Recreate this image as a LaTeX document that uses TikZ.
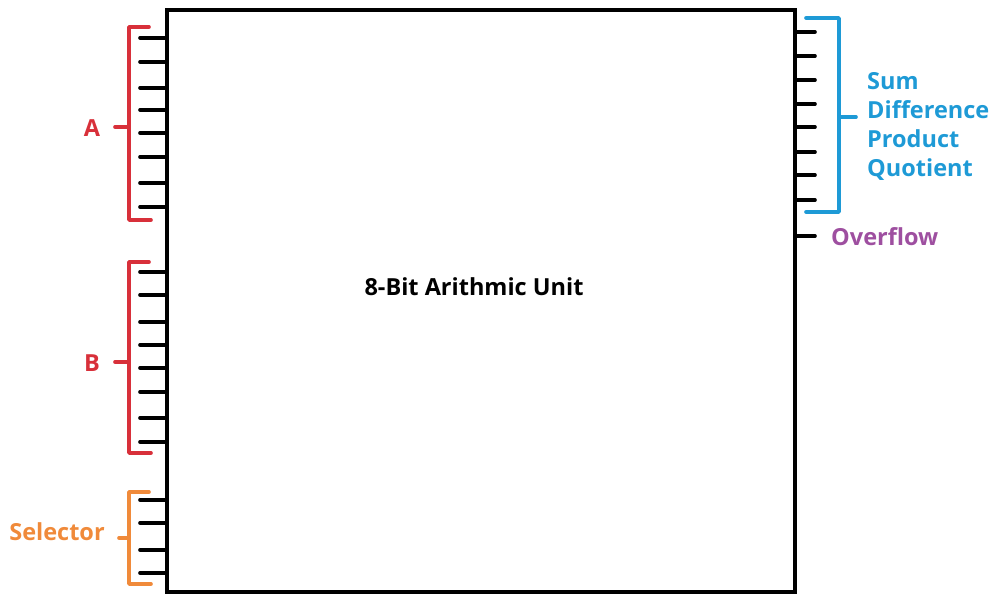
\documentclass[tikz,border=0pt]{standalone}
\usepackage{fontspec}
\setmainfont{Open Sans}
\definecolor{cred}{HTML}{D8303A}
\definecolor{corange}{HTML}{F08A3A}
\definecolor{cblue}{HTML}{1E9AD6}
\definecolor{cpurple}{HTML}{9E4FA0}
\begin{document}
\begin{tikzpicture}[x=1pt,y=-1pt,
  pin/.style={line width=3.6pt,line cap=round,black},
  brk/.style={line width=3.6pt,line cap=round,line join=round},
  lbl/.style={font=\fontsize{23.5}{29}\selectfont\bfseries,inner sep=0pt}]
\useasboundingbox (0,0) rectangle (996,602);
\draw[line width=4pt] (167,10) rectangle (795,592);
\node[font=\fontsize{23.5}{28}\selectfont\bfseries] (unit) at (474,287) {8-Bit Arithmic Unit};
% A pins
\foreach \y in {38,62,88,110,133,157,183,207}{\draw[pin] (140,\y) -- (167,\y);}
\draw[brk,cred] (149,27) -- (129,27) -- (129,220) -- (151,220);
\draw[brk,cred] (129,127) -- (115,127);
\node[lbl,text=cred] (la) at (92,128) {A};
% B pins
\foreach \y in {272,295,322,345,368,392,418,442}{\draw[pin] (140,\y) -- (167,\y);}
\draw[brk,cred] (149,262) -- (129,262) -- (129,453) -- (151,453);
\draw[brk,cred] (129,362) -- (115,362);
\node[lbl,text=cred] (lb) at (92,363) {B};
% Selector pins
\foreach \y in {500,523,550,573}{\draw[pin] (140,\y) -- (167,\y);}
\draw[brk,corange] (149,492) -- (129,492) -- (129,584) -- (151,584);
\draw[brk,corange] (129,538) -- (119,538);
\node[lbl,text=corange] (ls) at (57,532) {Selector};
% Output pins
\foreach \y in {32,56,80,104,127,152,175,200}{\draw[pin] (795,\y) -- (815,\y);}
\draw[brk,cblue] (806,18) -- (839,18) -- (839,212) -- (806,212);
\draw[brk,cblue] (839,117) -- (856,117);
\node[lbl,text=cblue,anchor=west,align=left] (lo) at (867,126) {Sum\\Difference\\Product\\Quotient};
% Overflow
\draw[pin] (795,236) -- (815,236);
\node[lbl,text=cpurple,anchor=west] (lv) at (831,237) {Overflow};
\end{tikzpicture}
\end{document}
